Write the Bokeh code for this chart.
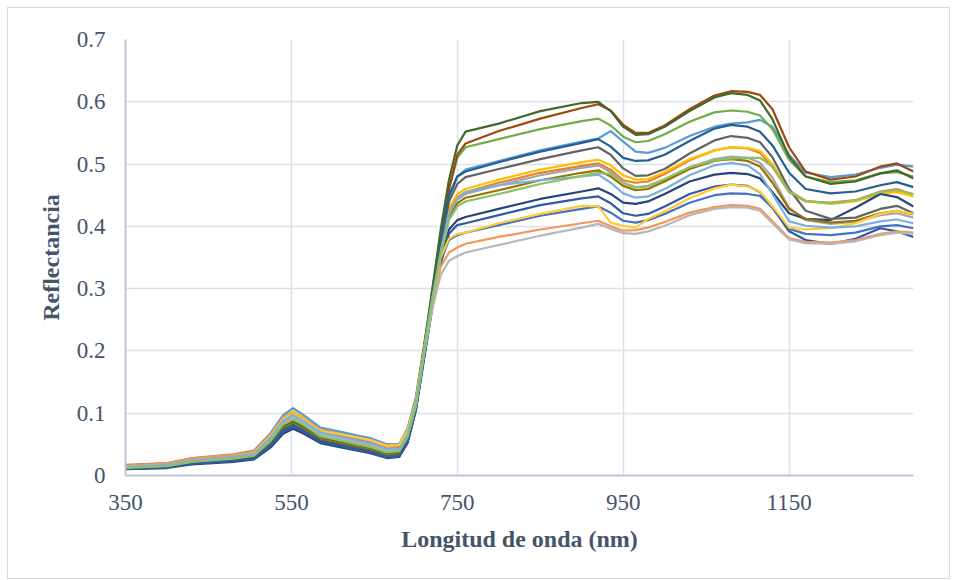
from bokeh.plotting import figure
from bokeh.models import Range1d, FixedTicker
from bokeh.embed import file_html
from bokeh.resources import INLINE

# Wavelength nodes (nm)
wavelength = [350, 400, 430, 480, 505, 525, 540, 552, 565, 585, 610, 630, 645, 665, 680, 690,
              700, 710, 720, 730, 740, 750,
              760, 800, 850, 900, 920, 935, 950, 965, 980, 1000, 1030, 1060, 1080, 1100, 1115,
              1130, 1150, 1170, 1200, 1230, 1260, 1280, 1300]

s01 = [.012, .014, .021, .026, .030, .052, .076, .084, .076, .059, .052, .046, .042, .033, .035, .058,
       .110, .195, .278, .345, .378, .386,
       .390, .402, .417, .428, .432, .422, .409, .406, .410, .420, .438, .450, .453, .452, .449,
       .430, .396, .388, .386, .390, .400, .402, .397]
s02 = [.017, .020, .028, .034, .040, .068, .095, .101, .092, .074, .067, .061, .057, .047, .048, .072,
       .122, .208, .292, .372, .425, .447,
       .455, .470, .486, .497, .501, .491, .474, .470, .472, .484, .506, .522, .527, .525, .518,
       .495, .455, .440, .438, .442, .456, .460, .451]
s03 = [.013, .016, .023, .029, .034, .059, .085, .093, .084, .066, .059, .053, .049, .040, .041, .064,
       .115, .200, .285, .365, .420, .443,
       .452, .466, .482, .494, .498, .487, .470, .462, .464, .475, .495, .508, .512, .510, .502,
       .478, .430, .410, .404, .407, .418, .421, .414]
s04 = [.015, .018, .026, .032, .038, .066, .094, .103, .093, .074, .068, .063, .059, .050, .051, .075,
       .125, .210, .295, .375, .430, .452,
       .460, .475, .491, .503, .507, .498, .482, .475, .476, .487, .508, .522, .527, .526, .521,
       .500, .458, .441, .436, .440, .452, .455, .448]
s05 = [.016, .019, .027, .033, .039, .068, .097, .108, .097, .077, .070, .064, .060, .050, .050, .075,
       .125, .210, .300, .380, .445, .480,
       .491, .505, .522, .536, .541, .553, .536, .520, .518, .526, .545, .560, .565, .567, .571,
       .560, .515, .486, .479, .483, .494, .499, .496]
s06 = [.012, .014, .021, .026, .031, .053, .078, .085, .077, .060, .053, .047, .043, .035, .037, .060,
       .112, .200, .295, .385, .460, .510,
       .527, .540, .556, .569, .573, .562, .544, .535, .537, .548, .568, .583, .586, .584, .578,
       .556, .507, .480, .471, .474, .485, .487, .480]
s07 = [.010, .012, .018, .022, .026, .045, .067, .075, .067, .052, .045, .040, .036, .028, .030, .052,
       .104, .188, .272, .345, .395, .410,
       .415, .428, .444, .456, .461, .452, .438, .436, .440, .452, .472, .483, .486, .484, .477,
       .455, .421, .412, .410, .430, .452, .447, .432]
s08 = [.015, .018, .025, .031, .036, .062, .090, .098, .088, .070, .063, .057, .053, .043, .044, .068,
       .120, .205, .295, .385, .460, .515,
       .533, .553, .573, .590, .596, .586, .563, .550, .550, .562, .588, .610, .617, .616, .611,
       .588, .527, .488, .475, .480, .496, .501, .488]
s09 = [.011, .013, .019, .024, .029, .050, .074, .082, .073, .057, .050, .044, .040, .031, .033, .056,
       .108, .195, .285, .370, .440, .468,
       .479, .492, .508, .522, .527, .515, .493, .481, .482, .492, .517, .538, .545, .542, .535,
       .511, .460, .425, .412, .414, .428, .433, .421]
s10 = [.012, .014, .021, .026, .031, .054, .078, .086, .077, .060, .053, .047, .043, .034, .036, .060,
       .112, .198, .283, .362, .415, .437,
       .446, .458, .474, .486, .490, .480, .465, .458, .460, .472, .492, .505, .508, .505, .496,
       .470, .428, .412, .406, .409, .421, .425, .419]
s11 = [.011, .013, .019, .024, .028, .048, .072, .080, .071, .055, .048, .042, .038, .030, .032, .055,
       .108, .195, .290, .380, .450, .480,
       .488, .503, .520, .534, .540, .528, .510, .505, .506, .515, .537, .557, .563, .560, .552,
       .530, .486, .460, .453, .456, .466, .471, .463]
s12 = [.013, .015, .022, .027, .032, .055, .080, .088, .079, .062, .055, .049, .045, .036, .038, .062,
       .115, .205, .300, .395, .475, .530,
       .552, .565, .585, .598, .600, .585, .560, .547, .548, .560, .585, .607, .614, .611, .602,
       .572, .512, .480, .468, .472, .485, .490, .477]
s13 = [.011, .013, .019, .023, .027, .047, .070, .078, .070, .054, .047, .041, .037, .029, .031, .053,
       .105, .188, .270, .340, .388, .402,
       .405, .418, .434, .445, .448, .437, .421, .417, .420, .432, .452, .464, .467, .465, .455,
       .430, .392, .378, .372, .380, .397, .392, .383]
s14 = [.016, .019, .027, .033, .038, .066, .093, .100, .091, .072, .066, .060, .056, .046, .047, .070,
       .118, .200, .275, .335, .358, .366,
       .372, .383, .395, .405, .409, .400, .393, .394, .398, .407, .422, .431, .434, .433, .428,
       .408, .381, .375, .374, .378, .388, .392, .390]
s15 = [.013, .016, .023, .029, .034, .058, .084, .092, .083, .065, .058, .052, .048, .039, .040, .063,
       .112, .195, .268, .322, .345, .352,
       .358, .370, .385, .398, .404, .396, .389, .388, .392, .401, .418, .428, .431, .430, .425,
       .405, .379, .373, .372, .376, .386, .390, .388]
s16 = [.014, .017, .024, .030, .036, .063, .090, .099, .089, .071, .066, .061, .057, .048, .049, .072,
       .120, .203, .283, .350, .380, .388,
       .390, .405, .420, .433, .432, .406, .401, .398, .412, .424, .445, .461, .467, .464, .456,
       .432, .398, .395, .397, .405, .420, .425, .420]
s17 = [.014, .017, .024, .030, .035, .061, .088, .097, .087, .069, .062, .056, .052, .042, .043, .066,
       .117, .202, .285, .360, .420, .445,
       .455, .466, .474, .480, .483, .470, .453, .446, .448, .460, .482, .498, .502, .498, .484,
       .452, .408, .401, .398, .400, .408, .411, .405]
s18 = [.012, .015, .022, .027, .032, .056, .082, .090, .081, .063, .056, .050, .046, .037, .039, .062,
       .113, .198, .280, .355, .410, .432,
       .440, .452, .468, .481, .486, .484, .470, .463, .465, .476, .495, .506, .509, .510, .510,
       .496, .456, .441, .437, .442, .455, .458, .452]

series = [s01, s02, s03, s04, s05, s06, s07, s08, s09, s10, s11, s12, s13, s14, s15, s16, s17, s18]
colors = ["#4472C4", "#ED7D31", "#A5A5A5", "#FFC000", "#5B9BD5", "#70AD47", "#264478", "#9E480E",
          "#636363", "#997300", "#255E91", "#43682B", "#335AA1", "#F1975A", "#B7B7B7", "#FFCD33",
          "#7CAFDD", "#8CC168"]

x_ticks = [350, 550, 750, 950, 1150]
y_ticks = [0, 0.1, 0.2, 0.3, 0.4, 0.5, 0.6, 0.7]
y_labels = ["0", "0.1", "0.2", "0.3", "0.4", "0.5", "0.6", "0.7"]

TEXT = "#44546A"
FONT = "Liberation Serif"

p = figure(width=943, height=572, output_backend="svg", toolbar_location=None,
           x_range=Range1d(350, 1300), y_range=Range1d(0, 0.7),
           min_border_left=117, min_border_right=38, min_border_top=31, min_border_bottom=105)
p.margin = (7, 0, 0, 7)
p.styles = {"border": "1px solid #D9D9D9"}
p.outline_line_color = None
p.background_fill_color = "white"
p.border_fill_color = "white"

for s, c in zip(series, colors):
    p.line(wavelength, s, line_color=c, line_width=2.2, line_join="round")

p.xaxis.ticker = FixedTicker(ticks=x_ticks)
p.yaxis.ticker = FixedTicker(ticks=y_ticks)
p.yaxis.major_label_overrides = {t: l for t, l in zip(y_ticks, y_labels)}

for ax in (p.xaxis[0], p.yaxis[0]):
    ax.axis_line_color = "#BCC6D6"
    ax.axis_line_width = 2
    ax.major_tick_line_color = None
    ax.minor_tick_line_color = None
    ax.major_tick_in = 0
    ax.major_tick_out = 0
    ax.major_label_text_font = FONT
    ax.major_label_text_font_size = "23px"
    ax.major_label_text_color = TEXT
    ax.axis_label_text_font = FONT
    ax.axis_label_text_font_size = "24px"
    ax.axis_label_text_font_style = "bold"
    ax.axis_label_text_color = TEXT

p.xaxis.axis_label = "Longitud de onda (nm)"
p.yaxis.axis_label = "Reflectancia"
p.xaxis.major_label_standoff = 19
p.yaxis.major_label_standoff = 20
p.xaxis.axis_label_standoff = 13
p.yaxis.axis_label_standoff = 10

p.xgrid.grid_line_color = "#DDE1E8"
p.xgrid.grid_line_width = 1.5
p.ygrid.grid_line_color = "#DDE1E8"
p.ygrid.grid_line_width = 1.5

open("out.html", "w").write(file_html(p, INLINE))
